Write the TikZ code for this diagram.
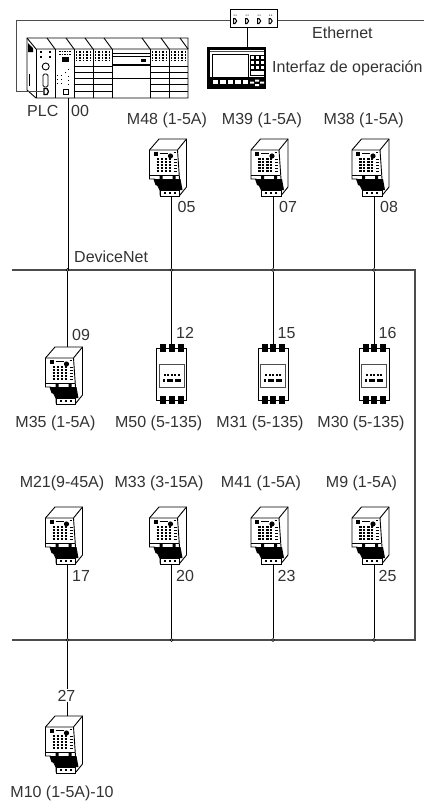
\documentclass[tikz,border=0pt]{standalone}
\usepackage{fontspec}
\setmainfont{Liberation Sans}
\tikzset{
  x=1pt,y=-1pt,
  lbl/.style={inner sep=0pt,font=\fontsize{16}{18}\selectfont,text=black!80,anchor=base west},
  clbl/.style={lbl,anchor=base},
  wire/.style={draw=black,line width=1pt},
  bus/.style={draw=black!70,line width=1.3pt},
  thin line/.style={draw=black,line width=0.9pt},
  dot/.style={circle,draw=black,fill=black!40,line width=.6pt,inner sep=0pt,minimum size=3pt},
  pics/drive/.style={code={
    % origin = bottom middle of the terminal block
    \draw[thin line,fill=white] (-22,-47)--(-12.5,-58)--(15,-58)--(15,-10)--(8.5,-2)--(-11.5,-2)--(-11.5,-7)--(-17,-18)--(-22,-18)--cycle;
    \draw[thin line] (-22,-47)--(6,-47)--(15,-58) (6,-47)--(8,-18);
    \fill[black] (-18,-45) rectangle (-14,-41.5);
    \fill[black] (-1,-41) circle (2.6);
    \draw[black,line width=.6pt] (-12,-44)--(-4,-44) (2,-45)--(4,-45);
    \foreach \r in {-38,-35,-32,-29,-26}{
      \draw[black,line width=1.2pt,dash pattern=on 2.5pt off 1.5pt] (-15,\r)--(-9,\r);
      \draw[black,line width=1.2pt,dash pattern=on 2.5pt off 1.5pt] (-7,\r)--(-1,\r);
      \draw[black,line width=.6pt] (2,\r)--(5,\r);}
    \draw[black,line width=.7pt] (-22,-22)--(7,-22);
    \fill[black] (-12,-21) rectangle (-9,-18) (1,-21) rectangle (4,-18);
    \fill[black] (-18,-18)--(9,-18)--(11,-7)--(-12,-7)--(-13,-11)--(-16,-12)--cycle;
    \draw[thin line,fill=white] (-11.5,-7) rectangle (8,-1);
    \foreach \t in {-7,-2,3}{\fill[black] (\t-1,-5) rectangle (\t+1.2,-3);}
  }},
  pics/starter/.style={code={
    % origin = top middle of the upper contact row
    \draw[thin line,fill=white] (-15,4) rectangle (15,56);
    \foreach \t in {-8.5,0,9}{
      \fill[black] (\t-3,0) rectangle (\t+3,8);
      \fill[black] (\t-3,52) rectangle (\t+3,60);}
    \draw[draw=black!70,line width=1pt,fill=white] (-12.5,20) rectangle (12.5,43);
    \foreach \t in {-8,-4.5,-1,2.5,6}{\fill[black] (\t,30) rectangle (\t+2,32);}
    \fill[black] (-9,34.5) rectangle (-7,38);
    \fill[black] (-5,35) rectangle (1,37.5);
    \fill[black] (3,35) rectangle (9,37.5);
  }}
}
\begin{document}
\begin{tikzpicture}
\useasboundingbox (0,0) rectangle (424,801);
\fill[white] (0,0) rectangle (424,801);

% PLC
\draw[thin line,fill=white] (27,38)--(188,38)--(188,98)--(36,98)--(27,90)--cycle;
\draw[thin line] (27,38)--(36,49)--(188,49);
\foreach \x in {36,55,74,93,112,150,169}{\draw[thin line] (\x,49)--(\x,98);}
\foreach \x in {47,66,85,104,142,161,180}{\draw[thin line] (\x,38)--(\x+8,49);}
\fill[black] (28,43)--(33,48)--(33,52)--(28,52)--cycle;
\draw[thin line] (29,74)--(29,86);
\foreach \x in {74,93,150,169}{
  \foreach \xx in {2.5,6,9.5,13,16.5}{\draw[black,line width=1.2pt,dash pattern=on 2pt off 1pt] (\x+\xx,51)--(\x+\xx,61);}
  \foreach \y in {66,72,78,84,91}{\draw[black,line width=.8pt] (\x,\y)--(\x+19,\y);}
}
\draw[thin line] (112,53)--(150,53);
\draw[black,line width=1.6pt] (112,56.5)--(150,56.5);
\fill[black] (141,59) rectangle (146,62);
\draw[black,line width=1.6pt] (112,65)--(150,65);
\draw[thin line] (112,78)--(150,78);
\fill[black] (61.5,57) rectangle (69,62);
\foreach \x/\y in {40/51,49/51,40/56,49/56}{\fill[black] (\x,\y) rectangle (\x+2,\y+2);}
\draw[thin line] (45.7,66.5) circle (3.5);
\draw[thin line,rounded corners=1.5pt] (43,74) rectangle (48,87);
\draw[black,line width=.9pt,dash pattern=on 1.5pt off 1pt] (59,51)--(71,51) (59,54)--(71,54);
\foreach \x/\y in {57/75,61/75,65/72,68/69,57/79,61/79,68/76,57/83,61/83,68/80,68/84}{\fill[black] (\x,\y) rectangle (\x+1.3,\y+1.3);}
\draw[thin line] (63,89) rectangle (68,94);
\coordinate (plcD) at (44,91.5);
\coordinate (plcbus) at (68,98);
\draw[black,line width=1.3pt,fill=white] (44,88.5)--(47,88.5)--(48.5,91.5)--(47,94.5)--(44,94.5)--cycle;
\node[lbl] (plc) at (27,116) {PLC};
\node[lbl] (n00) at (71,116) {00};

% Ethernet
\node[draw=black,line width=1pt,fill=white,minimum width=47.5pt,minimum height=18pt,inner sep=0pt] (hub) at (254,18.3) {};
\foreach \x in {235,247,259,270.5}{
  \draw[black,line width=1pt,fill=white] (\x-1.5,18.5)--(\x,18.5)--(\x+1.7,21)--(\x,23.5)--(\x-1.5,23.5)--cycle;
  \fill[black!70] (\x-1.5,14.5) rectangle (\x-.5,15.7) (\x+.5,14.5) rectangle (\x+1.5,15.7);}
\coordinate (ethR) at (424,20.5);
\coordinate (ethL) at (16.5,20.5);
\coordinate (ethLb) at (16.5,91.5);
\draw[bus] (hub.east|-ethR) -- (ethR);
\draw[bus] (hub.west|-ethL) -- (ethL) -- (ethLb) -- (plcD);
\node[lbl] (eth) at (312,38) {Ethernet};

% HMI
\node[draw=black,line width=2.5pt,fill=white,minimum width=56.5pt,minimum height=39.5pt,inner sep=0pt] (hmi) at (236.5,68) {};
\draw[black!70,line width=1pt] (210,51)--(264,51);
\draw[black,line width=1pt] (212,54) rectangle (248,77);
\fill[black] (208,77) rectangle (265,88);
\foreach \x/\w in {213/5,220/6,228/5,235/6,243/5}{\fill[white] (\x,79.5) rectangle (\x+\w,84);}
\fill[white] (250,81.5) rectangle (254,83.5) (255,79.5) rectangle (259,81.5) (255,84) rectangle (259,86) (260,81.5) rectangle (264,83.5);
\foreach \x in {250.5,255.5,260.5}{\foreach \y in {55,60,65}{\draw[black,line width=.8pt] (\x,\y) rectangle (\x+4,\y+4);}}
\draw[black,line width=.8pt] (250.5,70) rectangle (264.5,75);
\coordinate (hc) at (247,36);
\draw[wire] (hc|-hub.south) -- (hc|-hmi.north);
\node[lbl] (hmil) at (272,72) {Interfaz de operación};

% Buses
\coordinate (b1L) at (12,270);
\coordinate (b1R) at (415,270);
\coordinate (b2R) at (415,640);
\coordinate (b2L) at (12,640);
\draw[bus] (b1L) -- (b1R) -- (b2R) -- (b2L);
\node[lbl] (dnet) at (74,262) {DeviceNet};

% Top row
\foreach \n/\x/\lx/\l/\t in {b/171.5/167/M48 (1-5A)/05,c/273/262/M39 (1-5A)/07,d/374/363.7/M38 (1-5A)/08}{
  \node[dot] (t\n) at (\x,270) {};
  \coordinate (p\n) at (\x,197);
  \draw[wire] (p\n) -- (t\n);
  \pic at (\x,197) {drive};
  \node[clbl] (lt\n) at (\lx,124) {\l};
  \node[lbl] (nt\n) at (\x+6,212) {\t};
}
\node[dot] (ta) at (67.5,270) {};
\draw[wire] (plcbus) -- (plcbus|-ta);

% Middle row
\coordinate (m09) at (67.5,347);
\draw[wire] (ta) -- (m09);
\pic at (67.5,405) {drive};
\node[lbl] (n09) at (72,340.5) {09};
\node[clbl] (lm09) at (55.5,427) {M35 (1-5A)};
\foreach \n/\x/\lx/\l/\t in {b/171.5/158.7/M50 (5-135)/12,c/273/260/M31 (5-135)/15,d/374/361/M30 (5-135)/16}{
  \coordinate (s\n) at (\x,344);
  \draw[wire] (t\n) -- (s\n);
  \pic at (\x,344) {starter};
  \node[lbl] (ns\n) at (\x+4.5,338.5) {\t};
  \node[clbl] (ls\n) at (\lx,427) {\l};
}

% Bottom row
\foreach \n/\x/\lx/\l/\t in {a/67.5/62/M21(9-45A)/17,b/171.5/159/M33 (3-15A)/20,c/273/261/M41 (1-5A)/23,d/374/361.5/M9 (1-5A)/25}{
  \node[dot] (u\n) at (\x,640) {};
  \coordinate (q\n) at (\x,565);
  \draw[wire] (q\n) -- (u\n);
  \pic at (\x,565) {drive};
  \node[lbl] (nq\n) at (\x+4.5,581) {\t};
  \node[clbl] (lq\n) at (\lx,487) {\l};
}

% Last
\coordinate (m27) at (67.5,716);
\draw[wire] (ua) -- (m27);
\node[lbl,fill=white,inner ysep=1pt,anchor=base] (n27) at (66.5,701) {27};
\pic at (67.5,774) {drive};
\node[clbl] (lm10) at (62,797) {M10 (1-5A)-10};
\end{tikzpicture}
\end{document}
